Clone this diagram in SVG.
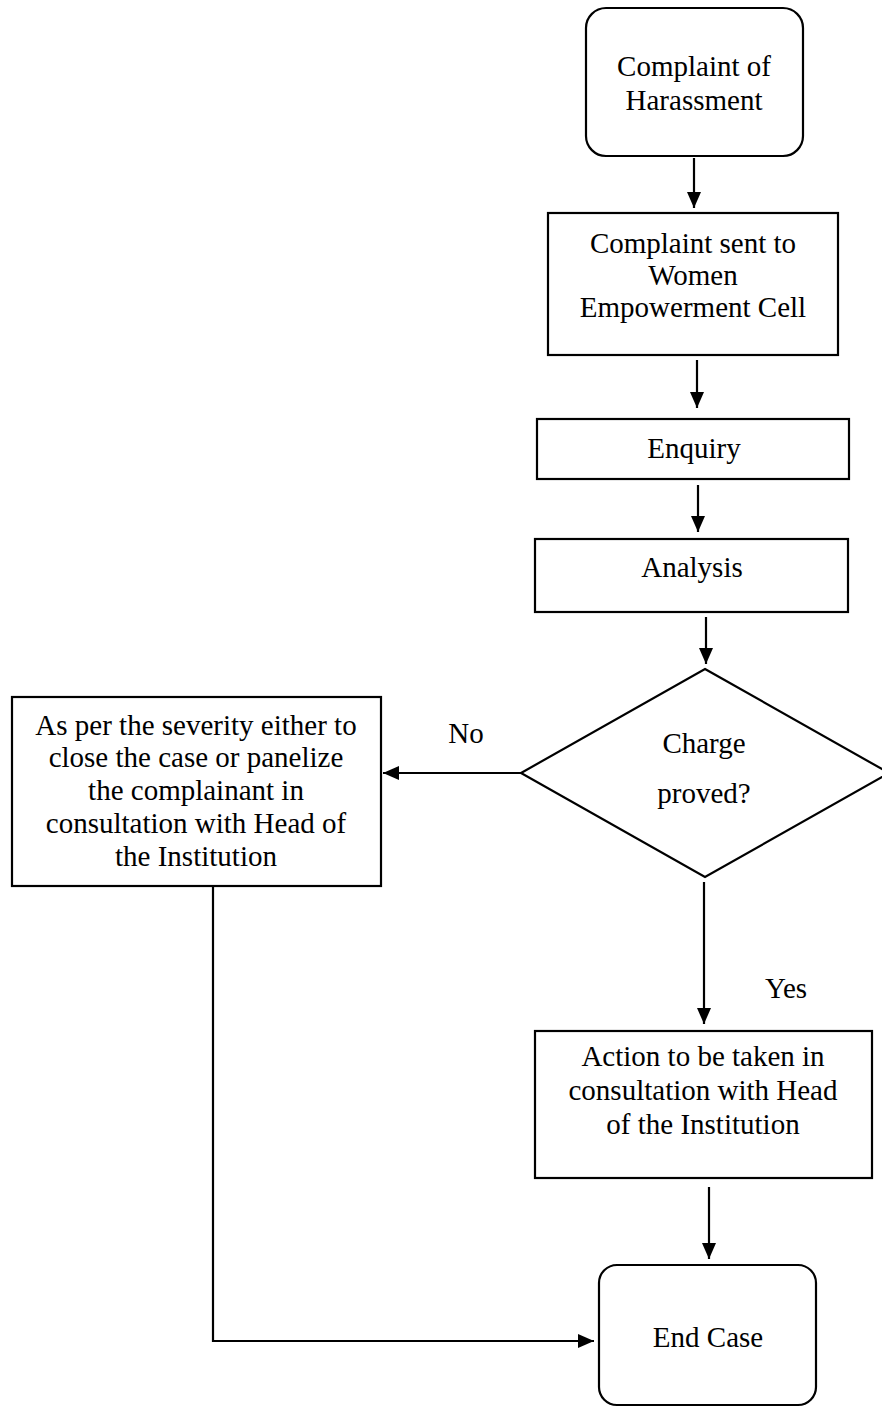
<svg xmlns="http://www.w3.org/2000/svg" width="882" height="1408" viewBox="0 0 882 1408">
<style>
.box{fill:#fff;stroke:#000;stroke-width:2.2}
.t{font-family:"Liberation Serif","Times New Roman",serif;font-size:29px;fill:#000;text-anchor:middle}
.c{fill:none;stroke:#000;stroke-width:2.2}
</style>
<defs>
<marker id="ah" viewBox="0 0 16 14" refX="16" refY="7" markerWidth="16" markerHeight="14" markerUnits="userSpaceOnUse" orient="auto">
<path d="M0,0 L16,7 L0,14 z" fill="#000"/>
</marker>
</defs>
<rect width="882" height="1408" fill="#fff"/>
<g id="n-complaint">
<rect class="box" x="586" y="8" width="217" height="148" rx="20"/>
<text class="t" x="694" y="76">Complaint of</text>
<text class="t" x="694" y="110">Harassment</text>
</g>
<g id="n-sent">
<rect class="box" x="548" y="213" width="290" height="142"/>
<text class="t" x="693" y="253">Complaint sent to</text>
<text class="t" x="693" y="285">Women</text>
<text class="t" x="693" y="317">Empowerment Cell</text>
</g>
<g id="n-enquiry">
<rect class="box" x="537" y="419" width="312" height="60"/>
<text class="t" x="694" y="458">Enquiry</text>
</g>
<g id="n-analysis">
<rect class="box" x="535" y="539" width="313" height="73"/>
<text class="t" x="692" y="577">Analysis</text>
</g>
<g id="n-decision">
<polygon class="box" points="705,669 889,773 705,877 521,773"/>
<text class="t" x="704" y="753">Charge</text>
<text class="t" x="704" y="803">proved?</text>
</g>
<g id="n-severity">
<rect class="box" x="12" y="697" width="369" height="189"/>
<text class="t" x="196" y="735">As per the severity either to</text>
<text class="t" x="196" y="767">close the case or panelize</text>
<text class="t" x="196" y="800">the complainant in</text>
<text class="t" x="196" y="833">consultation with Head of</text>
<text class="t" x="196" y="866">the Institution</text>
</g>
<g id="n-action">
<rect class="box" x="535" y="1031" width="337" height="147"/>
<text class="t" x="703" y="1066">Action to be taken in</text>
<text class="t" x="703" y="1100">consultation with Head</text>
<text class="t" x="703" y="1134">of the Institution</text>
</g>
<g id="n-end">
<rect class="box" x="599" y="1265" width="217" height="140" rx="18"/>
<text class="t" x="708" y="1347">End Case</text>
</g>
<g id="connectors">
<line class="c" x1="694" y1="158" x2="694" y2="208" marker-end="url(#ah)"/>
<line class="c" x1="697" y1="360" x2="697" y2="408" marker-end="url(#ah)"/>
<line class="c" x1="698" y1="485" x2="698" y2="532" marker-end="url(#ah)"/>
<line class="c" x1="706" y1="617" x2="706" y2="664" marker-end="url(#ah)"/>
<line class="c" x1="521" y1="773" x2="383" y2="773" marker-end="url(#ah)"/>
<line class="c" x1="704" y1="882" x2="704" y2="1024" marker-end="url(#ah)"/>
<line class="c" x1="709" y1="1187" x2="709" y2="1259" marker-end="url(#ah)"/>
<polyline class="c" points="213,886 213,1341 594,1341" marker-end="url(#ah)"/>
<text class="t" x="466" y="743">No</text>
<text class="t" x="786" y="998">Yes</text>
</g>
</svg>
